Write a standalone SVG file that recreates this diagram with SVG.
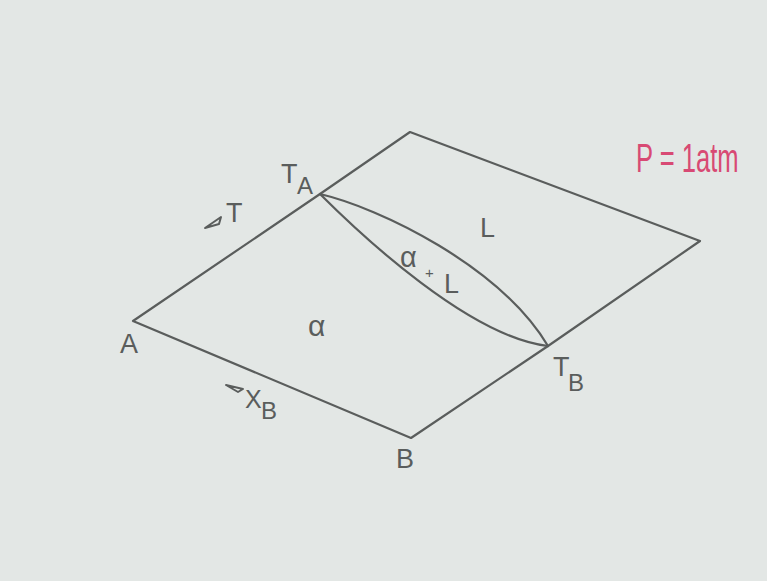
<svg xmlns="http://www.w3.org/2000/svg" width="767" height="581" viewBox="0 0 767 581">
<style>
.ln{fill:none;stroke:#5a5d5c;stroke-width:2.2;stroke-linecap:round;stroke-linejoin:round}
.lb{font-family:"Liberation Sans",Arial,sans-serif;fill:#5a5d5c}
.mk{fill:none;stroke:#5a5d5c;stroke-width:2;stroke-linejoin:round}
</style>
<rect width="767" height="581" fill="#e3e7e5"/>
<g id="connectors">
<polyline class="ln" points="133,321 320,194 410,132 700,241 548,346 411,438 133,321"/>
<path class="ln" d="M320,194 C380,208 500,266 548,346"/>
<path class="ln" d="M320,194 C362,236 470,337 548,346"/>
</g>
<g id="labels">
<text class="lb" x="281" y="183" font-size="27">T</text>
<text class="lb" x="297" y="194" font-size="24">A</text>
<polygon class="mk" points="205,228 221,217 219,224"/>
<text class="lb" x="226" y="222" font-size="27">T</text>
<text class="lb" x="120" y="353" font-size="27">A</text>
<text class="lb" x="308" y="336" font-size="30">α</text>
<polygon class="mk" points="226,385 243,389 238,392"/>
<text class="lb" x="245" y="408" font-size="25">X</text>
<text class="lb" x="261" y="419" font-size="24">B</text>
<text class="lb" x="396" y="468" font-size="27">B</text>
<text class="lb" x="553" y="376" font-size="27">T</text>
<text class="lb" x="568" y="391" font-size="24">B</text>
<text class="lb" x="480" y="237" font-size="27">L</text>
<text class="lb" x="400" y="267" font-size="29">α</text>
<text class="lb" x="425" y="278" font-size="15">+</text>
<text class="lb" x="444" y="293" font-size="27">L</text>
</g>
<g id="pressure" transform="translate(636,172) scale(0.8,1.3)">
<text x="0" y="0" font-family="'Liberation Sans',Arial,sans-serif" font-size="32" fill="#d84a74">P = 1atm</text>
</g>
</svg>
